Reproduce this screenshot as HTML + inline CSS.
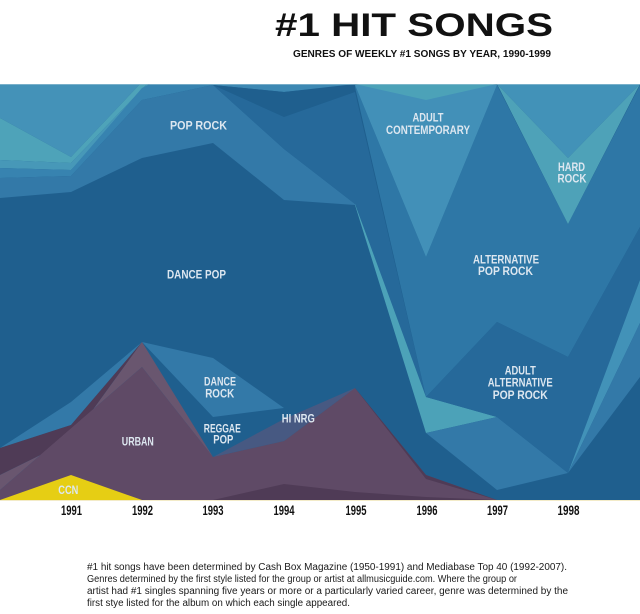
<!DOCTYPE html>
<html><head><meta charset="utf-8"><style>
html,body{margin:0;padding:0;background:#fff;}
svg{display:block;}
.lb{font-family:"Liberation Sans",sans-serif;font-weight:bold;font-size:12px;fill:#dde7f0;}
.yr{font-family:"Liberation Sans",sans-serif;font-weight:bold;font-size:14px;fill:#111;}
.ft{font-family:"Liberation Sans",sans-serif;font-size:10px;fill:#1a1a1a;}
</style></head><body>
<svg width="640" height="614" viewBox="0 0 640 614" xmlns="http://www.w3.org/2000/svg">
<rect x="0" y="0" width="640" height="614" fill="#fff"/>
<text x="275" y="36" textLength="278" lengthAdjust="spacingAndGlyphs" style="font-family:'Liberation Sans',sans-serif;font-weight:bold;font-size:32px;fill:#111;">#1 HIT SONGS</text>
<text x="293" y="57" textLength="258" lengthAdjust="spacingAndGlyphs" style="font-family:'Liberation Sans',sans-serif;font-weight:bold;font-size:10px;fill:#111;">GENRES OF WEEKLY #1 SONGS BY YEAR, 1990-1999</text>

<rect x="0" y="84" width="640" height="416" fill="#1f5f8e"/>

<polygon points="0,84 140,84 71,157 0,118" fill="#4492b8"/>
<polygon points="0,118 71,157 140,84 147,84 71,163 0,160" fill="#4ea3b9"/>
<polygon points="0,160 71,163 147,84 152,86 71,170 0,168" fill="#4798b8"/>
<polygon points="0,168 71,170 142,88 150,84 213,84 213,85 142,100 71,176 0,178" fill="#3783b0"/>
<polygon points="213,84 355,84 284,92 213,85" fill="#3d88b3"/>
<polygon points="0,178 71,176 142,100 213,85 284,149 355,204 426,397 355,205 284,200 213,143 142,158 71,192 0,198" fill="#3379a8"/>
<polygon points="213,85 284,92 355,85 426,397 355,92 284,117" fill="#1f5f8e"/>
<polygon points="213,85 284,117 355,92 426,397 355,204 284,149" fill="#26699a"/>
<polygon points="355,85 426,257 497,85 568,224 640,85 640,227 568,357 497,322 426,397 355,87" fill="#2e77a6"/>
<polygon points="355,85 497,85 426,257" fill="#4290b8"/>
<polygon points="355,84 497,84 426,100" fill="#4ca2b8"/>
<polygon points="497,84 640,84 568,158" fill="#4292b8"/>
<polygon points="497,84 568,158 640,84 568,224" fill="#4ea2b8"/>
<polygon points="355,204 426,397 497,417 426,433 355,205" fill="#4ca2b8"/>
<polygon points="426,433 497,417 568,473 497,490" fill="#3379a8"/>
<polygon points="426,397 497,322 568,357 640,227 640,280 568,473 497,417" fill="#26699a"/>
<polygon points="568,473 640,280 640,323" fill="#4292b8"/>
<polygon points="568,473 640,323 640,377" fill="#3379a8"/>

<polygon points="0,448 71,402 142,342 71,425" fill="#3379a8"/>
<polygon points="0,448 71,425 142,342 71,440 0,475" fill="#4f3b56"/>
<polygon points="0,475 71,440 142,342 213,457 142,367 0,490" fill="#69566f"/>
<polygon points="0,490 142,367 213,457 284,441 355,388 426,475 497,500 0,500" fill="#5f4a66"/>
<polygon points="213,457 284,419 355,388 284,441" fill="#475982"/>
<polygon points="142,342 213,358 284,408 213,417" fill="#3379a8"/>
<polygon points="213,500 284,484 355,492 426,497 497,500" fill="#4f3b56"/>
<polygon points="355,388 426,475 497,500 426,479" fill="#4f3b56"/>
<polygon points="0,500 71,475 142,500" fill="#e6ce14"/>
<rect x="0" y="500" width="640" height="1" fill="#f3ebc8"/>
<rect x="0" y="84" width="640" height="1" fill="#9cc4d6" opacity="0.6"/>

<g class="lb" text-anchor="middle">
<text x="198.5" y="129.5" textLength="57" lengthAdjust="spacingAndGlyphs">POP ROCK</text>
<text x="428" y="121.7" textLength="31" lengthAdjust="spacingAndGlyphs">ADULT</text>
<text x="428" y="134" textLength="84" lengthAdjust="spacingAndGlyphs">CONTEMPORARY</text>
<text x="571.5" y="171" textLength="27" lengthAdjust="spacingAndGlyphs">HARD</text>
<text x="572" y="182.7" textLength="29" lengthAdjust="spacingAndGlyphs">ROCK</text>
<text x="196.5" y="278.5" textLength="59" lengthAdjust="spacingAndGlyphs">DANCE POP</text>
<text x="506" y="263.3" textLength="66" lengthAdjust="spacingAndGlyphs">ALTERNATIVE</text>
<text x="505.5" y="275" textLength="55" lengthAdjust="spacingAndGlyphs">POP ROCK</text>
<text x="220" y="385.7" textLength="32" lengthAdjust="spacingAndGlyphs">DANCE</text>
<text x="219.7" y="397.7" textLength="29" lengthAdjust="spacingAndGlyphs">ROCK</text>
<text x="222.3" y="432.3" textLength="37" lengthAdjust="spacingAndGlyphs">REGGAE</text>
<text x="223.3" y="443.3" textLength="20" lengthAdjust="spacingAndGlyphs">POP</text>
<text x="298.3" y="422.7" textLength="33" lengthAdjust="spacingAndGlyphs">HI NRG</text>
<text x="137.8" y="445.7" textLength="32" lengthAdjust="spacingAndGlyphs">URBAN</text>
<text x="68.3" y="494" textLength="20" lengthAdjust="spacingAndGlyphs">CCN</text>
<text x="520.3" y="374.3" textLength="31" lengthAdjust="spacingAndGlyphs">ADULT</text>
<text x="520.2" y="386.7" textLength="65" lengthAdjust="spacingAndGlyphs">ALTERNATIVE</text>
<text x="520.2" y="399" textLength="55" lengthAdjust="spacingAndGlyphs">POP ROCK</text>
</g>

<g class="yr" text-anchor="middle">
<text x="71.5" y="515" textLength="21" lengthAdjust="spacingAndGlyphs">1991</text>
<text x="142.5" y="515" textLength="21" lengthAdjust="spacingAndGlyphs">1992</text>
<text x="213" y="515" textLength="21" lengthAdjust="spacingAndGlyphs">1993</text>
<text x="284" y="515" textLength="21" lengthAdjust="spacingAndGlyphs">1994</text>
<text x="356" y="515" textLength="21" lengthAdjust="spacingAndGlyphs">1995</text>
<text x="427" y="515" textLength="21" lengthAdjust="spacingAndGlyphs">1996</text>
<text x="497.5" y="515" textLength="21" lengthAdjust="spacingAndGlyphs">1997</text>
<text x="568.5" y="515" textLength="22" lengthAdjust="spacingAndGlyphs">1998</text>
</g>

<g class="ft">
<text x="87" y="570" textLength="480" lengthAdjust="spacingAndGlyphs">#1 hit songs have been determined by Cash Box Magazine (1950-1991) and Mediabase Top 40 (1992-2007).</text>
<text x="87" y="582" textLength="430" lengthAdjust="spacingAndGlyphs">Genres determined by the first style listed for the group or artist at allmusicguide.com. Where the group or</text>
<text x="87" y="594" textLength="481" lengthAdjust="spacingAndGlyphs">artist had #1 singles spanning five years or more or a particularly varied career, genre was determined by the</text>
<text x="87" y="606" textLength="263" lengthAdjust="spacingAndGlyphs">first stye listed for the album on which each single appeared.</text>
</g>
</svg>
</body></html>
